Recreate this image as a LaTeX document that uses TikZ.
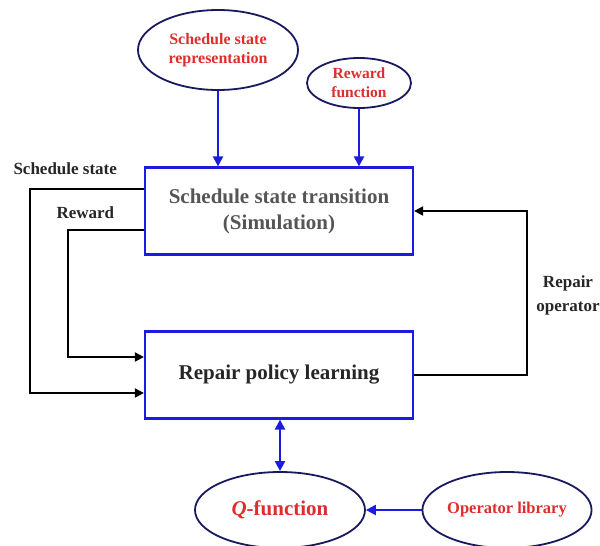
\documentclass[tikz,border=0pt]{standalone}
\usepackage{fontspec}
\setmainfont{Liberation Serif}
\usepackage{xcolor}
\usepackage{tikz}
\usetikzlibrary{arrows.meta,shapes.geometric}
\definecolor{boxblue}{RGB}{28,28,225}
\definecolor{ovalnavy}{RGB}{25,25,95}
\definecolor{labred}{RGB}{222,45,45}
\definecolor{simgray}{RGB}{85,85,85}

\begin{document}
\begin{tikzpicture}[x=1pt,y=-1pt,
	box/.style={draw=boxblue,line width=2.2pt,minimum width=268pt,minimum height=87pt,inner sep=0pt,align=center,font=\fontsize{21}{26}\selectfont\bfseries},
	oval/.style={draw=ovalnavy,ellipse,line width=1.8pt,inner sep=0pt,align=center,text=labred},
	bluearrow/.style={draw=boxblue,line width=2.2pt,-{Triangle[length=10pt,width=10pt]}},
	blackarrow/.style={line width=1.8pt,-{Triangle[length=9pt,width=9pt]}},
	lab/.style={font=\fontsize{17}{24}\selectfont\bfseries,text=black!85}]
							\useasboundingbox (0,0) rectangle (600,546);
							
							\node[box,text=simgray] (sim) at (279,211) {Schedule state transition\\(Simulation)};
							\node[box,text=black!85] (pol) at (279,375) {Repair policy learning};
							
							\node[oval,minimum width=160pt,minimum height=80pt,font=\fontsize{16}{19}\selectfont\bfseries] (rep) at (218,50) {Schedule state\\representation};
							\node[oval,minimum width=104pt,minimum height=50pt,font=\fontsize{15.5}{19}\selectfont\bfseries] (rew) at (359,83) {Reward\\function};
							\node[oval,minimum width=170pt,minimum height=76pt,font=\fontsize{21}{24}\selectfont\bfseries] (qfun) at (280,510) {\textit{Q}-function};
							\node[oval,minimum width=144pt,minimum height=76pt,font=\fontsize{16.5}{19}\selectfont\bfseries] (oplib) at (507,510) {Operator library};
							
							\coordinate (ssx) at (30,0);
							\coordinate (rwx) at (68,0);
							\coordinate (rox) at (527,0);
							\coordinate (s1) at ([yshift=22pt]sim.west);
							\coordinate (s2) at ([yshift=-18pt]pol.west);
							\coordinate (r1) at ([yshift=-19pt]sim.west);
							\coordinate (r2) at ([yshift=18pt]pol.west);
							
							\draw[bluearrow] (rep.south) -- (rep.south |- sim.north);
							\draw[bluearrow] (rew.south) -- (rew.south |- sim.north);
							\draw[bluearrow,{Triangle[length=10pt,width=10pt]}-{Triangle[length=10pt,width=10pt]}] (qfun.north) -- (qfun.north |- pol.south);
							\draw[bluearrow] (oplib.west) -- (qfun.east);
							
							\draw[blackarrow] (s1) -- (s1 -| ssx) |- (s2);
							\draw[blackarrow] (r1) -- (r1 -| rwx) |- (r2);
							\draw[blackarrow] (pol.east) -- (pol.east -| rox) |- (sim.east);
							
							\node[lab,anchor=west] (sslab) at (10,169) {Schedule state};
							\node[lab,anchor=west] (rwlab) at (53,213) {Reward};
							\node[lab,align=center] (oplab) at (568,295) {Repair\\operator};
						\end{tikzpicture}
\end{document}
